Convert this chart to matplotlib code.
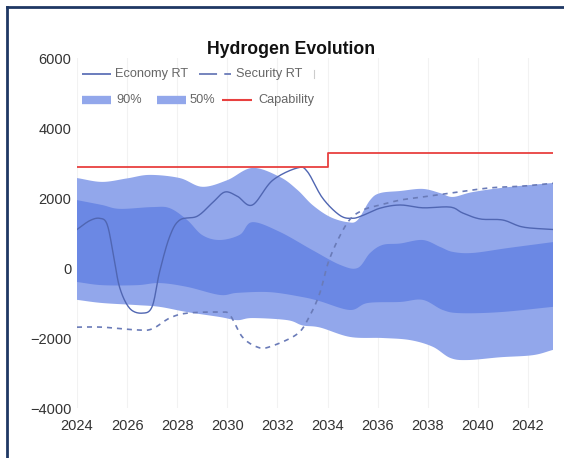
import numpy as np
import matplotlib
matplotlib.use("Agg")
import matplotlib.pyplot as plt
from matplotlib.lines import Line2D

plt.rcParams['font.family'] = ['Liberation Sans', 'DejaVu Sans']

# ---------------- data ----------------
title = "Hydrogen Evolution"
x_ticks = [2024, 2026, 2028, 2030, 2032, 2034, 2036, 2038, 2040, 2042]
y_ticks = [-4000, -2000, 0, 2000, 4000, 6000]

economy_x = [2024.0, 2024.5, 2024.9, 2025.2, 2025.45, 2025.7, 2026.1, 2026.6, 2027.0, 2027.3,
             2027.7, 2028.1, 2028.8, 2029.4, 2029.9, 2030.4, 2031.0, 2031.8, 2032.8, 2033.2,
             2033.8, 2034.5, 2035.0, 2035.4, 2036.1, 2036.9, 2037.8, 2038.9, 2039.4, 2040.1,
             2041.0, 2041.8, 2043.0]
economy_y = [1100, 1350, 1420, 1250, 400, -550, -1150, -1290, -1100, -100,
             900, 1370, 1480, 1860, 2170, 2050, 1800, 2500, 2860, 2750,
             2000, 1500, 1420, 1500, 1710, 1800, 1720, 1740, 1570, 1400,
             1370, 1170, 1100]

security_x = [2024.0, 2025.0, 2026.4, 2027.0, 2027.7, 2028.4, 2029.7, 2030.1, 2030.6, 2031.2,
              2031.7, 2032.8, 2033.3, 2033.7, 2034.1, 2034.8, 2035.4, 2036.1, 2036.9, 2037.8,
              2039.2, 2040.5, 2041.8, 2043.0]
security_y = [-1690, -1690, -1770, -1740, -1430, -1290, -1260, -1340, -1970, -2260,
              -2250, -1880, -1350, -700, 300, 1300, 1650, 1800, 1940, 2030,
              2170, 2290, 2340, 2420]

p90_up_x = [2024.0, 2025.0, 2026.0, 2026.9, 2028.1, 2029.0, 2030.0, 2031.0, 2032.1, 2032.8,
            2033.4, 2034.1, 2034.8, 2035.2, 2035.7, 2036.1, 2036.9, 2037.8, 2038.5, 2039.0,
            2039.8, 2041.2, 2043.0]
p90_up_y = [2570, 2460, 2560, 2660, 2570, 2320, 2510, 2860, 2600, 2230,
            1800, 1460, 1310, 1370, 1940, 2140, 2200, 2260, 2140, 2030,
            2170, 2310, 2430]

p90_lo_x = [2024.0, 2025.0, 2026.4, 2027.3, 2028.4, 2029.7, 2030.4, 2031.0, 2032.4, 2033.0,
            2033.7, 2034.9, 2036.2, 2037.3, 2038.2, 2038.9, 2039.6, 2040.9, 2042.2, 2043.0]
p90_lo_y = [-910, -1000, -1060, -1110, -1260, -1400, -1490, -1430, -1490, -1640,
            -1700, -1970, -2000, -2060, -2250, -2570, -2630, -2550, -2490, -2340]

p50_up_x = [2024.0, 2025.0, 2025.7, 2027.0, 2027.7, 2028.4, 2029.0, 2029.7, 2030.5, 2031.0,
            2032.1, 2033.4, 2034.5, 2035.2, 2035.7, 2036.2, 2036.9, 2037.8, 2038.5, 2039.0,
            2039.8, 2041.2, 2043.0]
p50_up_y = [1940, 1800, 1690, 1740, 1710, 1370, 940, 800, 950, 1310,
            1030, 510, 90, 0, 430, 660, 700, 800, 600, 460,
            430, 570, 740]

p50_lo_x = [2024.0, 2025.0, 2026.4, 2027.3, 2028.4, 2029.7, 2030.4, 2031.7, 2033.0, 2033.7,
            2034.9, 2035.6, 2036.9, 2037.8, 2038.6, 2039.3, 2040.9, 2043.0]
p50_lo_y = [-400, -490, -490, -430, -540, -770, -710, -690, -830, -950,
            -1200, -1000, -970, -910, -1200, -1290, -1260, -1110]

capability_x = [2024, 2034, 2034, 2043]
capability_y = [2900, 2900, 3300, 3300]

legend_labels = ['Economy RT', 'Security RT', '90%', '50%', 'Capability']


# ---------------- smoothing (rendering only) ----------------
def smooth(xs, ys, n=12):
    xs = np.asarray(xs, float)
    ys = np.asarray(ys, float)
    px = np.concatenate([[2 * xs[0] - xs[1]], xs, [2 * xs[-1] - xs[-2]]])
    py = np.concatenate([[2 * ys[0] - ys[1]], ys, [2 * ys[-1] - ys[-2]]])
    outx, outy = [], []
    for i in range(1, len(px) - 2):
        t = np.linspace(0, 1, n, endpoint=False)
        for arr, out in ((px, outx), (py, outy)):
            p0, p1, p2, p3 = arr[i - 1], arr[i], arr[i + 1], arr[i + 2]
            m1 = (p2 - p0) / 2
            m2 = (p3 - p1) / 2
            h00 = 2 * t**3 - 3 * t**2 + 1
            h10 = t**3 - 2 * t**2 + t
            h01 = -2 * t**3 + 3 * t**2
            h11 = t**3 - t**2
            out.extend(h00 * p1 + h10 * m1 + h01 * p2 + h11 * m2)
    outx.append(xs[-1])
    outy.append(ys[-1])
    return np.array(outx), np.array(outy)


light = '#92a7eb'
dark = '#6b88e4'
line_col = '#5066b2'
dash_col = '#6a7bb8'
red = '#e8403f'

W, H = 564, 458
fig = plt.figure(figsize=(W / 100, H / 100), dpi=100)
ax = fig.add_axes([77 / W, 1 - 408 / H, (553 - 77) / W, (408 - 58) / H])

ux, uy = smooth(p90_up_x, p90_up_y)
lx, ly = smooth(p90_lo_x, p90_lo_y)
ax.fill(np.concatenate([ux, lx[::-1]]), np.concatenate([uy, ly[::-1]]),
        color=light, lw=0, zorder=2)
ux, uy = smooth(p50_up_x, p50_up_y)
lx, ly = smooth(p50_lo_x, p50_lo_y)
ax.fill(np.concatenate([ux, lx[::-1]]), np.concatenate([uy, ly[::-1]]),
        color=dark, lw=0, zorder=3)

ex, ey = smooth(economy_x, economy_y)
ax.plot(ex, ey, color=line_col, lw=1.0, zorder=5)
sx, sy = smooth(security_x, security_y)
ax.plot(sx, sy, color=dash_col, lw=1.2, ls=(0, (3, 3)), zorder=5)
ax.plot(capability_x, capability_y, color=red, lw=1.3, zorder=6)

ax.set_xlim(2024, 2043)
ax.set_ylim(-4000, 6000)
ax.set_xticks(x_ticks)
ax.set_yticks(y_ticks)
ax.set_yticklabels([f"\u2212{abs(v)}" if v < 0 else str(v) for v in y_ticks])
ax.tick_params(length=0, labelsize=10.5, colors='#333333')
ax.tick_params(axis='y', pad=4)
ax.tick_params(axis='x', pad=8)
ax.grid(axis='x', color='#f2f2f2', lw=0.8, zorder=0)
for s in ax.spines.values():
    s.set_visible(False)

fig.text(291 / W, 1 - 49 / H, title, ha='center', va='center',
         fontsize=12.7, fontweight='bold', color='#111111')


# ---------------- manual legend (layout in figure pixels) ----------------
def fx(px):
    return px / W


def fy(py):
    return 1 - py / H


def leg_line(x0, x1, y, **kw):
    fig.add_artist(Line2D([fx(x0), fx(x1)], [fy(y), fy(y)], transform=fig.transFigure,
                          solid_capstyle='butt', dash_capstyle='butt', **kw))


def leg_text(x, y, s):
    fig.text(fx(x), fy(y), s, ha='left', va='center', fontsize=9.2, color='#666666')


r1, r2 = 74, 100
leg_line(82, 111, r1, color=line_col, lw=1.2)
leg_text(115, r1, legend_labels[0])
leg_line(199, 231, r1, color=dash_col, lw=1.3, ls=(0, (10, 4)))
leg_text(236, r1, legend_labels[1])
fig.add_artist(Line2D([fx(314), fx(314)], [fy(70), fy(78)], transform=fig.transFigure,
                      color='#cccccc', lw=0.8))
leg_line(82, 111, r2, color=light, lw=6)
leg_text(116, r2, legend_labels[2])
leg_line(157, 186, r2, color=light, lw=6)
leg_text(190, r2, legend_labels[3])
leg_line(222, 252, r2, color=red, lw=1.5)
leg_text(258, r2, legend_labels[4])

# frame border
fig.add_artist(Line2D([fx(7), 1.0], [fy(7), fy(7)], color='#1f3864', lw=2,
                      transform=fig.transFigure))
fig.add_artist(Line2D([fx(7), fx(7)], [0.0, fy(7)], color='#1f3864', lw=2,
                      transform=fig.transFigure))

fig.savefig('out.png', dpi=100)
